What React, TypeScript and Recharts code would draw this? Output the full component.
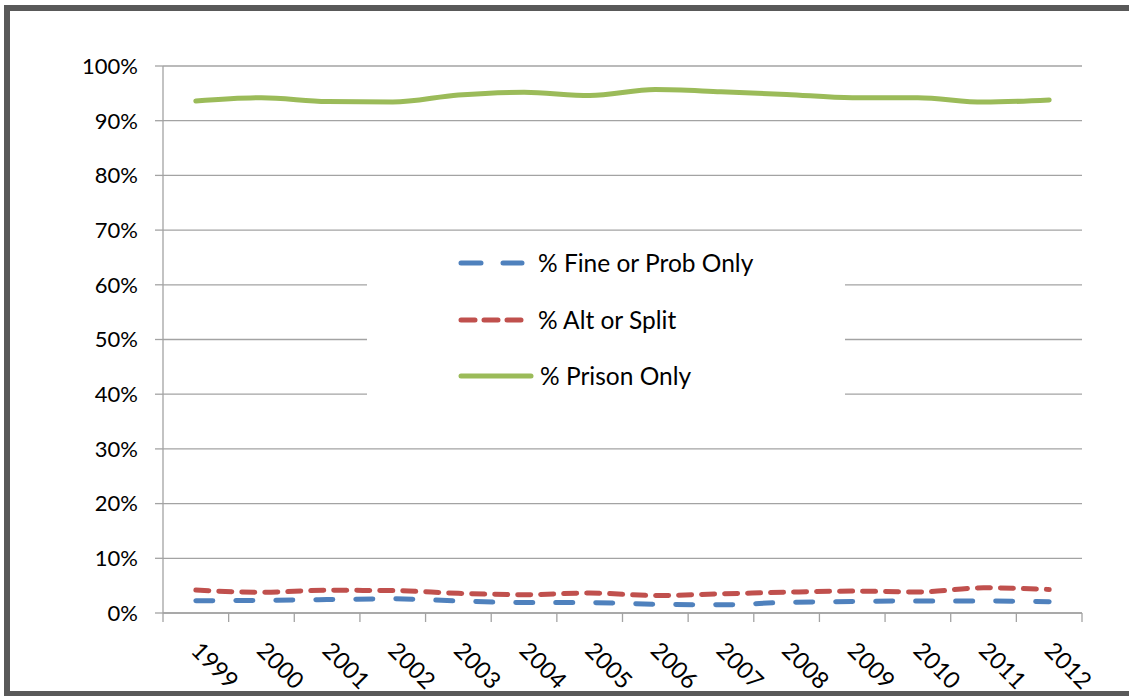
import React from 'react';
import { LineChart, Line, XAxis, YAxis, CartesianGrid, Legend } from 'recharts';

const years = ['1999', '2000', '2001', '2002', '2003', '2004', '2005', '2006', '2007', '2008', '2009', '2010', '2011', '2012'];
const fineOrProb = [2.25, 2.3, 2.45, 2.6, 2.2, 1.9, 1.9, 1.6, 1.5, 1.95, 2.1, 2.2, 2.2, 2.05];
const altOrSplit = [4.2, 3.8, 4.15, 4.1, 3.6, 3.35, 3.65, 3.2, 3.5, 3.8, 4.0, 3.85, 4.6, 4.3];
const prisonOnly = [93.6, 94.2, 93.5, 93.4, 94.7, 95.2, 94.6, 95.7, 95.3, 94.8, 94.2, 94.2, 93.4, 93.8];
const yTicks = [0, 10, 20, 30, 40, 50, 60, 70, 80, 90, 100];

const boundaryTicks = years.map((_, i) => i).concat([years.length]);
const centerTicks = years.map((_, i) => i + 0.5);

const data = years.map((y, i) => ({
  pos: i + 0.5,
  year: y,
  fine: fineOrProb[i],
  alt: altOrSplit[i],
  prison: prisonOnly[i],
}));

const series = [
  { key: 'fine', name: '% Fine or Prob Only', color: '#4F81BD', dash: '17 23', sampleDash: '20 22', sampleLen: 66 },
  { key: 'alt', name: '% Alt or Split', color: '#C0504D', dash: '13 10', sampleDash: '14 9', sampleLen: 66 },
  { key: 'prison', name: '% Prison Only', color: '#9BBB59', dash: undefined, sampleDash: undefined, sampleLen: 75 },
];

const FONT = 'Lato, "Open Sans", sans-serif';
const GRID = '#a3a3a3';
const GRID_AXIS_H = 10;

const XLabel = (props: any) => {
  const { x, y, payload } = props;
  const ax = x - 6;
  const ay = y + 39 - GRID_AXIS_H;
  return (
    <text
      x={ax}
      y={ay}
      transform={`rotate(45, ${ax}, ${ay})`}
      textAnchor="start"
      fontFamily={FONT}
      fontSize={23.5}
      fill="#000"
    >
      {years[Math.floor(payload.value)]}
    </text>
  );
};

const NoLabel = () => <g />;

const LegendContent = () => (
  <div style={{ position: 'relative', width: 478, height: 162, fontFamily: FONT }}>
    {series.map((s, i) => (
      <div key={s.key} style={{ position: 'absolute', left: 0, top: 27 + i * 56.5 - 15, height: 30, width: 478 }}>
        <svg width={90} height={30} style={{ position: 'absolute', left: 91, top: 0 }}>
          <line
            x1={3}
            y1={15}
            x2={3 + s.sampleLen - 5}
            y2={15}
            stroke={s.color}
            strokeWidth={5}
            strokeLinecap="round"
            strokeDasharray={s.sampleDash}
          />
        </svg>
        <span
          style={{
            position: 'absolute',
            left: s.key === 'prison' ? 173 : 171,
            top: 0,
            lineHeight: '30px',
            fontSize: 24.5,
            color: '#000',
            whiteSpace: 'nowrap',
          }}
        >
          {s.name}
        </span>
      </div>
    ))}
  </div>
);

export default function App() {
  return (
    <div style={{ position: 'absolute', left: 0, top: 0, width: 1129, height: 696, background: '#fff', overflow: 'hidden' }}>
      <div
        style={{
          position: 'absolute',
          left: 4,
          top: 5,
          width: 1160,
          height: 680,
          border: '6px solid #595959',
        }}
      />
      <div style={{ position: 'absolute', left: 0, top: 0 }}>
        <LineChart
          width={1129}
          height={696}
          data={data}
          margin={{ top: 66, right: 47, left: 103, bottom: 3 }}
        >
          <CartesianGrid vertical={false} stroke={GRID} strokeWidth={1.3} />
          <XAxis
            xAxisId="grid"
            dataKey="pos"
            type="number"
            domain={[0, years.length]}
            ticks={boundaryTicks}
            interval={0}
            height={GRID_AXIS_H}
            tick={<NoLabel />}
            tickSize={9}
            stroke={GRID}
            strokeWidth={1.3}
            allowDataOverflow
          />
          <XAxis
            xAxisId="lab"
            dataKey="pos"
            type="number"
            domain={[0, years.length]}
            ticks={centerTicks}
            interval={0}
            height={80 - GRID_AXIS_H}
            axisLine={false}
            tickLine={false}
            tickSize={0}
            tickMargin={0}
            tick={<XLabel />}
          />
          <YAxis
            type="number"
            domain={[0, 100]}
            ticks={yTicks}
            interval={0}
            width={60}
            tickSize={8}
            tickMargin={17}
            stroke={GRID}
            strokeWidth={1.3}
            tickFormatter={(v: number) => `${v}%`}
            tick={{ fontFamily: FONT, fontSize: 22, fill: '#000' }}
          />
          <Legend
            layout="vertical"
            align="center"
            verticalAlign="middle"
            content={<LegendContent />}
            wrapperStyle={{ position: 'absolute', left: 367, top: 236, width: 478, height: 162, background: '#fff' }}
          />
          {series.map((s) => (
            <Line
              key={s.key}
              xAxisId="grid"
              dataKey={s.key}
              name={s.name}
              type="monotone"
              stroke={s.color}
              strokeWidth={5}
              strokeLinecap="round"
              strokeDasharray={s.dash}
              dot={false}
              activeDot={false}
              isAnimationActive={false}
            />
          ))}
        </LineChart>
      </div>
    </div>
  );
}
